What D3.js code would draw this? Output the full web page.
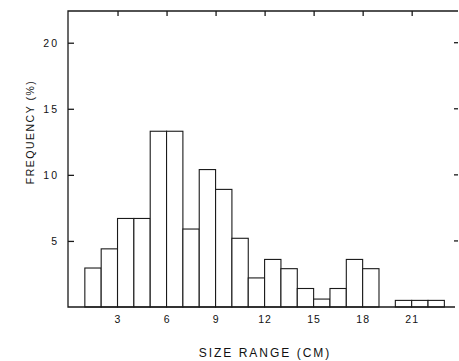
<!DOCTYPE html>
<html>
<head>
<meta charset="utf-8">
<script src="https://cdn.jsdelivr.net/npm/d3@7"></script>
<style>
  html, body { margin: 0; padding: 0; background: #fff; }
  svg text { font-family: "Liberation Sans", Arial, sans-serif; fill: #111; }
</style>
</head>
<body>
<svg id="chart" width="459" height="361"></svg>
<script>
// Size classes (cm): each bar spans [start, start + 1)
const binStarts = [1, 2, 3, 4, 5, 6, 7, 8, 9, 10, 11, 12, 13, 14, 15, 16, 17, 18, 20, 21, 22];
const frequency = [2.95, 4.4, 6.7, 6.7, 13.3, 13.3, 5.9, 10.4, 8.9, 5.2, 2.2, 3.6, 2.9, 1.4, 0.6, 1.4, 3.6, 2.9, 0.5, 0.5, 0.5];
const xTicks = [3, 6, 9, 12, 15, 18, 21];
const yTicks = [5, 10, 15, 20];
const xTitle = "SIZE RANGE (CM)";
const yTitle = "FREQUENCY (%)";

const svg = d3.select("#chart");
const plotLeft = 68, plotRight = 458, plotTop = 11, plotBottom = 307;

const x = d3.scaleLinear().domain([0, 24]).range([68.5, 460.7]);
const y = d3.scaleLinear().domain([0, 22.4]).range([plotBottom, plotTop]);

const ink = "#1a1a1a";

// bars
svg.append("g")
  .selectAll("rect")
  .data(binStarts.map((s, i) => ({ s, v: frequency[i] })))
  .join("rect")
  .attr("x", d => x(d.s))
  .attr("y", d => y(d.v))
  .attr("width", d => x(d.s + 1) - x(d.s))
  .attr("height", d => y(0) - y(d.v))
  .attr("fill", "#fff")
  .attr("stroke", ink)
  .attr("stroke-width", 1.1);

// frame lines: left, top, bottom
svg.append("path")
  .attr("d", `M${plotRight},${plotTop}H${plotLeft}V${plotBottom}H${plotRight - 3}`)
  .attr("fill", "none")
  .attr("stroke", ink)
  .attr("stroke-width", 1.3);

// top axis: inward ticks only
const topAxis = svg.append("g")
  .attr("transform", `translate(0,${plotTop})`)
  .call(d3.axisTop(x).tickValues(xTicks).tickSizeInner(-5).tickSizeOuter(0).tickFormat(""));
topAxis.select(".domain").remove();
topAxis.selectAll("line").attr("stroke", ink).attr("stroke-width", 1.3);

// bottom axis: labels only
const bottomAxis = svg.append("g")
  .attr("transform", `translate(0,${plotBottom})`)
  .call(d3.axisBottom(x).tickValues(xTicks).tickSize(0).tickPadding(9));
bottomAxis.select(".domain").remove();
bottomAxis.selectAll("text")
  .attr("font-size", 10.5)
  .attr("letter-spacing", "1px")
  .attr("font-family", "Liberation Sans, Arial, sans-serif");

// left axis: inward ticks with labels
const leftAxis = svg.append("g")
  .attr("transform", `translate(${plotLeft},0)`)
  .call(d3.axisLeft(y).tickValues(yTicks).tickSizeInner(-6).tickSizeOuter(0).tickPadding(9));
leftAxis.select(".domain").remove();
leftAxis.selectAll("line").attr("stroke", ink).attr("stroke-width", 1.3);
leftAxis.selectAll("text")
  .attr("font-size", 10.5)
  .attr("letter-spacing", "2px")
  .attr("font-family", "Liberation Sans, Arial, sans-serif");

// right side: short tick marks without a border line
svg.append("g")
  .selectAll("line")
  .data(yTicks)
  .join("line")
  .attr("x1", 454).attr("x2", 458)
  .attr("y1", d => y(d)).attr("y2", d => y(d))
  .attr("stroke", ink)
  .attr("stroke-width", 1.3);

// axis titles
svg.append("text")
  .attr("x", 265)
  .attr("y", 357)
  .attr("text-anchor", "middle")
  .attr("font-size", 12)
  .attr("letter-spacing", "2px")
  .text(xTitle);

svg.append("text")
  .attr("transform", "translate(34,132) rotate(-90)")
  .attr("text-anchor", "middle")
  .attr("font-size", 10.5)
  .attr("letter-spacing", "1.5px")
  .text(yTitle);
</script>
</body>
</html>
